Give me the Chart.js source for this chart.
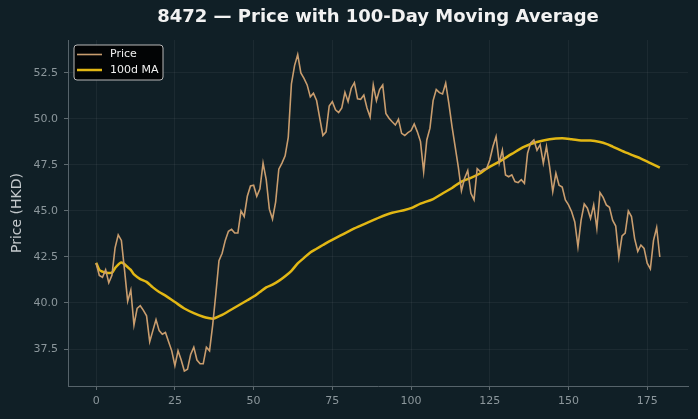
<!DOCTYPE html>
<html lang="en">
<head>
    <meta charset="UTF-8">
    <title>8472 - Price with 100-Day Moving Average</title>
    <script src="https://cdn.jsdelivr.net/npm/chart.js"></script>
    <style>
        * {
            padding: 0;
            margin: 0;
            box-sizing: border-box;
        }

        body {
            background-color: #101f26;
            width: 698px;
            height: 419px;
            overflow: hidden;
        }

        #chart-box {
            position: relative;
            width: 698px;
            height: 419px;
        }
    </style>
</head>

<body>
    <div id="chart-box">
        <canvas id="chart1"></canvas>
    </div>

    <script>
        // closing prices, one per trading day (day 0 .. 179)
        const priceValues = [
            42.16, 41.5, 41.4, 41.8, 41.1, 41.5, 43.0, 43.7, 43.4, 41.8,
            40.1, 40.7, 38.8, 39.7, 39.85, 39.6, 39.3, 37.9, 38.5, 39.1,
            38.5, 38.3, 38.4, 37.9, 37.4, 36.6, 37.4, 36.9, 36.3, 36.4,
            37.2, 37.6, 36.9, 36.7, 36.7, 37.6, 37.4, 38.8, 40.5, 42.3,
            42.7, 43.4, 43.9, 44.0, 43.8, 43.8, 45.0, 44.7, 45.8, 46.36,
            46.4, 45.8, 46.2, 47.6, 46.7, 45.1, 44.56, 45.5, 47.27, 47.6,
            48.0, 49.0, 51.9, 52.9, 53.5, 52.5, 52.2, 51.85, 51.2, 51.4,
            51.0, 50.04, 49.1, 49.3, 50.7, 50.94, 50.5, 50.35, 50.6, 51.45,
            50.94, 51.67, 51.97, 51.1, 51.07, 51.3, 50.6, 50.1, 51.85, 51.0,
            51.6, 51.85, 50.3, 50.04, 49.85, 49.67, 49.98, 49.22, 49.1, 49.26,
            49.37, 49.73, 49.3, 48.77, 47.14, 48.86, 49.5, 51.0, 51.6, 51.43,
            51.36, 51.94, 50.85, 49.6, 48.5, 47.4, 46.1, 46.78, 47.2, 45.96,
            45.6, 47.3, 47.14, 47.27, 47.3, 47.77, 48.5, 49.04, 47.6, 48.3,
            46.96, 46.86, 46.96, 46.6, 46.54, 46.7, 46.5, 48.14, 48.7, 48.86,
            48.3, 48.6, 47.6, 48.5, 47.4, 46.05, 47.05, 46.4, 46.3, 45.6,
            45.33, 44.96, 44.4, 43.06, 44.5, 45.38, 45.15, 44.6, 45.33, 44.06,
            46.0, 45.74, 45.33, 45.2, 44.5, 44.18, 42.5, 43.64, 43.8, 45.0,
            44.7, 43.5, 42.8, 43.15, 42.97, 42.16, 41.85, 43.4, 44.1, 42.5
        ];

        // 100d moving average at these days
        const maDays = [
            0, 1, 2, 3, 5, 6, 8, 10, 11, 12, 14, 16, 18, 20, 22, 25, 28, 31, 34, 36,
            37, 38, 40, 42, 45, 48, 50, 52, 54, 56, 58, 60, 62, 64, 66, 68, 70, 72, 74, 78,
            82, 86, 90, 94, 98, 100, 103, 107, 110, 113, 116, 119, 122, 124, 128, 132, 136, 140, 144, 148,
            151, 154, 157, 160, 162, 164, 167, 170, 173, 176, 179
        ];
        const maValues = [
            42.19, 41.8, 41.7, 41.65, 41.65, 41.9, 42.2, 41.95, 41.8, 41.55, 41.3, 41.15, 40.85, 40.6, 40.4, 40.05, 39.7, 39.45, 39.25, 39.17,
            39.15, 39.2, 39.35, 39.55, 39.85, 40.15, 40.35, 40.6, 40.85, 41.0, 41.2, 41.45, 41.75, 42.15, 42.45, 42.75, 42.95, 43.15, 43.35, 43.7,
            44.05, 44.35, 44.65, 44.9, 45.05, 45.15, 45.4, 45.65, 45.95, 46.25, 46.6, 46.8, 47.05, 47.3, 47.68, 48.1, 48.5, 48.75, 48.9, 48.95,
            48.9, 48.83, 48.83, 48.75, 48.65, 48.5, 48.26, 48.05, 47.85, 47.6, 47.35
        ];

        const xTicks = [0, 25, 50, 75, 100, 125, 150, 175];
        const yTicks = [37.5, 40.0, 42.5, 45.0, 47.5, 50.0, 52.5];
        const seriesNames = ['Price', '100d MA'];
        const chartTitle = '8472 \u2014 Price with 100-Day Moving Average';

        const priceColor = '#c99d6e';
        const maColor = '#e2b714';

        // legend box drawn inside the plot, top left
        const innerLegend = {
            id: 'innerLegend',
            afterDatasetsDraw(chart) {
                const ctx = chart.ctx;
                const area = chart.chartArea;
                const x = area.left + 6;
                const y = area.top + 5;
                const w = 89;
                const h = 35;
                ctx.save();
                ctx.beginPath();
                ctx.roundRect(x, y, w, h, 3);
                ctx.fillStyle = 'rgba(0, 0, 0, 0.85)';
                ctx.fill();
                ctx.strokeStyle = '#b8b8b8';
                ctx.lineWidth = 1;
                ctx.stroke();

                const colors = [priceColor, maColor];
                const widths = [1.6, 2.5];
                ctx.font = '11px "DejaVu Sans"';
                ctx.textBaseline = 'middle';
                for (let i = 0; i < 2; i++) {
                    const ly = y + 9.5 + i * 15.5;
                    ctx.beginPath();
                    ctx.moveTo(x + 3, ly);
                    ctx.lineTo(x + 28, ly);
                    ctx.strokeStyle = colors[i];
                    ctx.lineWidth = widths[i];
                    ctx.stroke();
                    ctx.fillStyle = '#f0f0f0';
                    ctx.fillText(seriesNames[i], x + 36, ly);
                }
                ctx.restore();
            }
        };

        const ctx = document.getElementById('chart1').getContext('2d');
        new Chart(ctx, {
            type: 'line',
            data: {
                datasets: [{
                    label: seriesNames[0],
                    data: priceValues.map((v, i) => ({ x: i, y: v })),
                    borderColor: priceColor,
                    borderWidth: 1.6,
                    pointRadius: 0,
                    tension: 0,
                    fill: false
                }, {
                    label: seriesNames[1],
                    data: maDays.map((d, i) => ({ x: d, y: maValues[i] })),
                    borderColor: maColor,
                    borderWidth: 2.5,
                    pointRadius: 0,
                    tension: 0.3,
                    fill: false
                }]
            },
            options: {
                responsive: true,
                maintainAspectRatio: false,
                animation: false,
                layout: {
                    padding: { left: 0, right: 10, top: 0, bottom: 0 }
                },
                plugins: {
                    legend: { display: false },
                    tooltip: { enabled: false },
                    title: {
                        display: true,
                        text: chartTitle,
                        color: '#f2f2f2',
                        fullSize: false,
                        font: { family: 'DejaVu Sans', size: 18, weight: 'bold', lineHeight: 1.2 },
                        padding: { top: 7, bottom: 11.4 }
                    }
                },
                scales: {
                    x: {
                        type: 'linear',
                        min: -8.95,
                        max: 187.95,
                        afterBuildTicks: (scale) => {
                            scale.ticks = xTicks.map(v => ({ value: v }));
                        },
                        afterFit: (scale) => { scale.height = 33; },
                        grid: {
                            color: 'rgba(255, 255, 255, 0.05)',
                            tickColor: '#5f6b70',
                            tickLength: 4
                        },
                        border: { color: '#56636a' },
                        ticks: {
                            color: '#8c979c',
                            font: { family: 'DejaVu Sans', size: 11 },
                            padding: 5,
                            maxRotation: 0
                        }
                    },
                    y: {
                        min: 35.49,
                        max: 54.29,
                        afterBuildTicks: (scale) => {
                            scale.ticks = yTicks.map(v => ({ value: v }));
                        },
                        afterFit: (scale) => { scale.width = 68; },
                        grid: {
                            color: 'rgba(255, 255, 255, 0.05)',
                            tickColor: '#5f6b70',
                            tickLength: 4
                        },
                        border: { color: '#56636a' },
                        ticks: {
                            color: '#8c979c',
                            font: { family: 'DejaVu Sans', size: 11 },
                            padding: 6,
                            callback: (v) => v.toFixed(1)
                        },
                        title: {
                            display: true,
                            text: 'Price (HKD)',
                            color: '#c4c9cc',
                            font: { family: 'DejaVu Sans', size: 14 },
                            padding: { top: 9, bottom: 0 }
                        }
                    }
                }
            },
            plugins: [innerLegend]
        });
    </script>
</body>
</html>
